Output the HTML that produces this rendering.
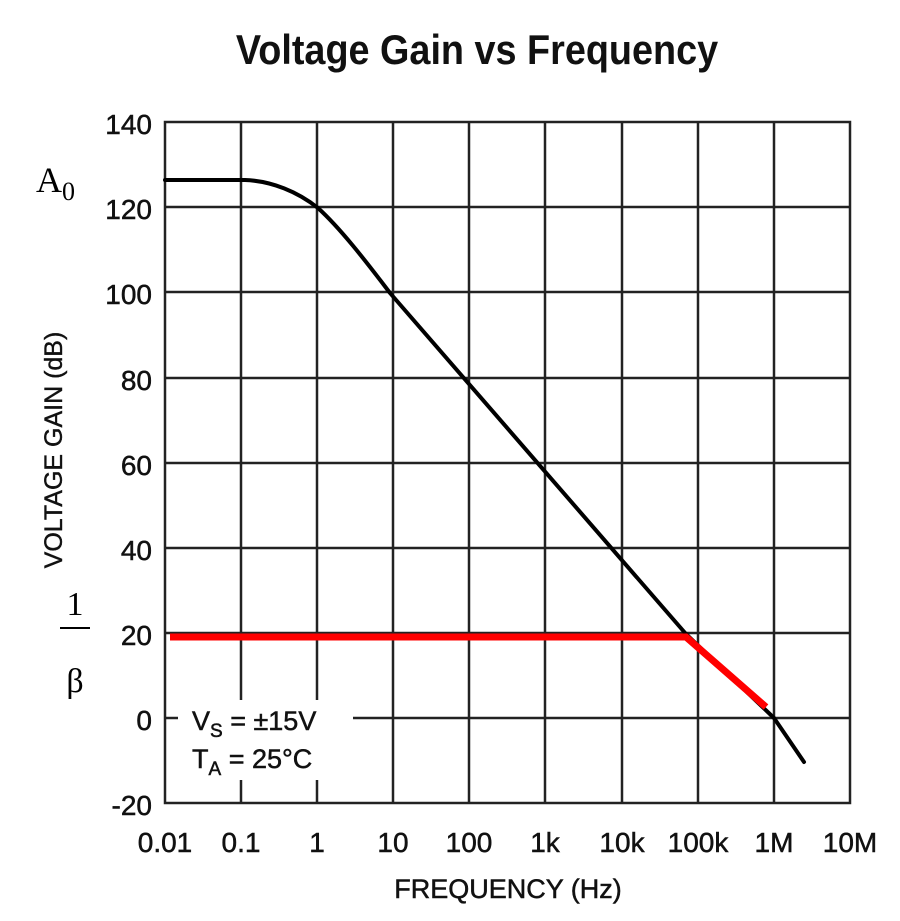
<!DOCTYPE html>
<html><head><style>body{margin:0;background:#fff}</style></head><body>
<svg width="900" height="916" xmlns="http://www.w3.org/2000/svg" font-family="Liberation Sans, sans-serif">
<text x="477" y="64" text-anchor="middle" font-size="42" font-weight="bold" transform="translate(477,0) scale(0.9,1) translate(-477,0)" fill="#111">Voltage Gain vs Frequency</text>
<g stroke="#222" stroke-width="2.5" fill="none">
<rect x="165" y="122" width="685" height="681"/>
<path d="M241,122V803M317,122V803M393,122V803M469,122V803M545,122V803M622,122V803M698,122V803M774,122V803M165,207H850M165,292H850M165,378H850M165,463H850M165,548H850M165,633H850M165,718H850"/>
</g>
<path d="M165,180 L245,180 C272,181 298,192 318,208 C340,228 365,260 390,293 L686,634 L774,718 L804,762" stroke="#000" stroke-width="4" fill="none" stroke-linecap="round" stroke-linejoin="round"/>
<path d="M170,637 L686,637 L766,707" stroke="#f00" stroke-width="7" fill="none"/>
<g font-size="28" text-anchor="end" fill="#111" stroke="#111" stroke-width="0.5">
<text x="152" y="134">140</text><text x="152" y="219">120</text><text x="152" y="304">100</text><text x="152" y="390">80</text><text x="152" y="475">60</text><text x="152" y="560">40</text><text x="152" y="645">20</text><text x="152" y="730">0</text><text x="152" y="815">-20</text>
</g>
<g font-size="28" text-anchor="middle" fill="#111" stroke="#111" stroke-width="0.5">
<text x="165" y="852">0.01</text><text x="241" y="852">0.1</text><text x="317" y="852">1</text><text x="393" y="852">10</text><text x="469" y="852">100</text><text x="545" y="852">1k</text><text x="622" y="852">10k</text><text x="698" y="852">100k</text><text x="774" y="852">1M</text><text x="850" y="852">10M</text>
<text x="508" y="898" font-size="27">FREQUENCY (Hz)</text>
</g>
<text transform="translate(62,450) rotate(-90)" text-anchor="middle" font-size="25" fill="#111" stroke="#111" stroke-width="0.4">VOLTAGE GAIN (dB)</text>
<text x="36" y="192" font-family="Liberation Serif, serif" font-size="36">A<tspan font-size="26" dy="8">0</tspan></text>
<text x="75" y="615" font-family="Liberation Serif, serif" font-size="34" text-anchor="middle">1</text>
<line x1="60" y1="628" x2="90" y2="628" stroke="#000" stroke-width="2"/>
<text x="75" y="692" font-family="Liberation Serif, serif" font-size="34" text-anchor="middle">β</text>
<rect x="178" y="700" width="175" height="80" fill="#fff"/>
<g font-size="27" fill="#111" stroke="#111" stroke-width="0.5">
<text x="192" y="730">V<tspan font-size="19" dy="7">S</tspan><tspan dy="-7"> = ±15V</tspan></text>
<text x="192" y="768">T<tspan font-size="19" dy="7">A</tspan><tspan dy="-7"> = 25°C</tspan></text>
</g>
</svg>
</body></html>
